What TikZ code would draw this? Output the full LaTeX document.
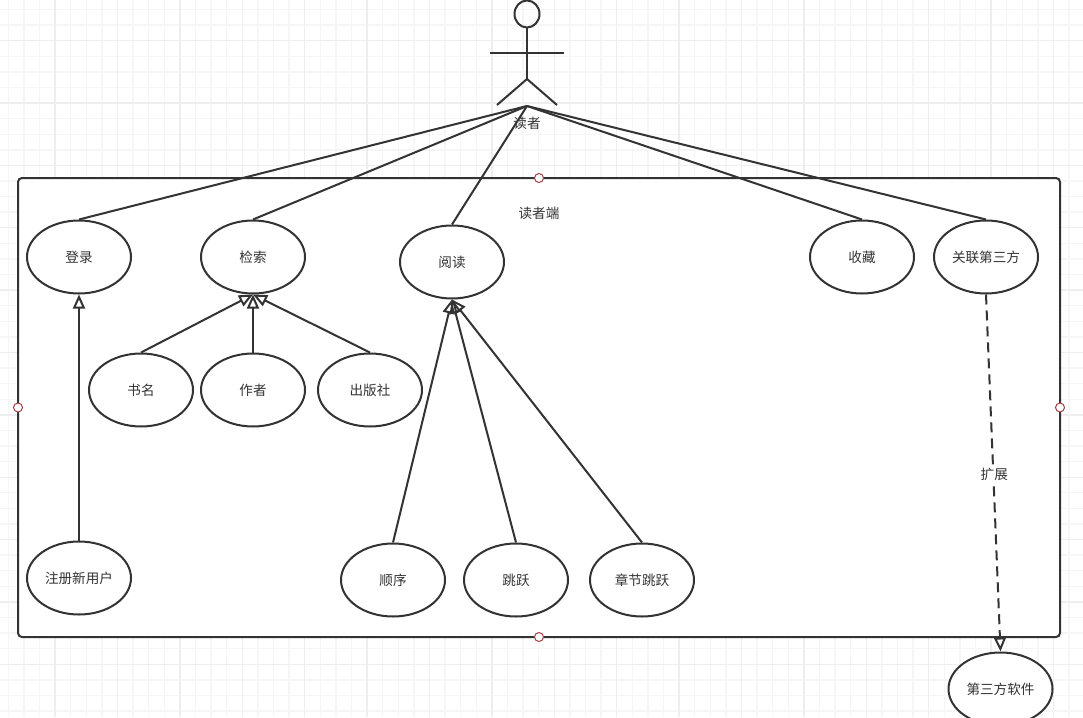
\documentclass[tikz,border=0pt]{standalone}
\usepackage{fontspec}
\usepackage{xcolor}
\usetikzlibrary{arrows.meta,shapes.geometric}
\setmainfont{Noto Sans CJK SC}
\definecolor{ink}{HTML}{333333}
\definecolor{gridminor}{HTML}{F6F6F6}
\definecolor{gridmajor}{HTML}{EEEEEE}
\definecolor{handlered}{HTML}{A04040}
\tikzset{
  usecase/.style={draw=ink,line width=2pt,fill=white,ellipse,minimum width=104pt,minimum height=73pt,inner sep=0pt,text=ink,text depth=0pt,font=\fontsize{13.6}{13.6}\selectfont},
  link/.style={draw=ink,line width=2pt},
  extends/.style={link,-{Triangle[open,length=14pt,width=12pt,line width=2pt]}},
  depends/.style={link,dash pattern=on 10pt off 6pt,-{Triangle[open,length=14pt,width=12pt,line width=2pt]}},
  caption/.style={text=ink,text depth=0pt,font=\fontsize{13.6}{13.6}\selectfont,inner sep=1pt},
  handle/.style={circle,draw=handlered,fill=white,line width=1pt,minimum size=9pt,inner sep=0pt},
}
\begin{document}
\begin{tikzpicture}[x=1pt,y=-1pt]
  \useasboundingbox (0,0) rectangle (1083,717);
  \foreach \x in {0,1,...,69}{
    \draw [gridminor,line width=1.4pt] ({8.2+\x*15.6},0)--({8.2+\x*15.6},717);
  }
  \foreach \y in {0,1,...,46}{
    \draw [gridminor,line width=1.4pt] (0,{9.5+\y*15.59})--(1083,{9.5+\y*15.59});
  }
  \foreach \x in {0,1,...,16}{
    \draw [gridmajor,line width=1.4pt] ({55+\x*62.4},0)--({55+\x*62.4},717);
  }
  \foreach \y in {0,1,...,10}{
    \draw [gridmajor,line width=1.4pt] (0,{40.7+\y*62.36})--(1083,{40.7+\y*62.36});
  }
  % system box
  \draw [link,fill=white,rounded corners=4pt] (18,178) rectangle (1060,637);
  \node [handle] (hT) at (539,178) {};
  \node [handle] (hB) at (539,637) {};
  \node [handle] (hL) at (18,407.5) {};
  \node [handle] (hR) at (1060,407.5) {};
  \node [caption] (sys) at (539,213) {读者端};
  % actor
  \draw [link] (527,14) circle [x radius=12.5pt,y radius=13.5pt];
  \coordinate (neck) at (527,28);
  \coordinate (hip) at (527,79);
  \coordinate (reader) at (527,106);
  \coordinate (armL) at (490,53);
  \coordinate (armR) at (564,53);
  \coordinate (legL) at (497,105);
  \coordinate (legR) at (557,105);
  \draw [link] (neck)--(hip);
  \draw [link] (armL)--(armR);
  \draw [link] (legL)--(hip)--(legR);
  % use cases
  \node [usecase] (login) at (79,257) {登录};
  \node [usecase] (search) at (253,257) {检索};
  \node [usecase] (read) at (452,262) {阅读};
  \node [usecase] (fav) at (862,257) {收藏};
  \node [usecase] (bind) at (986,257) {关联第三方};
  \node [usecase] (title) at (141,390) {书名};
  \node [usecase] (author) at (253,390) {作者};
  \node [usecase] (press) at (370,390) {出版社};
  \node [usecase] (signup) at (79,578) {注册新用户};
  \node [usecase] (seq) at (393,580) {顺序};
  \node [usecase] (jump) at (516,580) {跳跃};
  \node [usecase] (chap) at (642,580) {章节跳跃};
  \node [usecase] (third) at (1000.5,689) {第三方软件};
  \foreach \t in {login,search,read,fav,bind}{
    \draw [link] (reader)--(\t.north);
  }
  \node [caption] (readerlabel) at (527,123) {读者};
  \foreach \s/\t in {title/search,author/search,press/search,signup/login,seq/read,jump/read,chap/read}{
    \draw [extends] (\s.north)--(\t.south);
  }
  \draw [depends] (bind.south) to node [caption,fill=white,xshift=1pt,yshift=-1pt] (ext) {扩展} (third.north);
\end{tikzpicture}
\end{document}
